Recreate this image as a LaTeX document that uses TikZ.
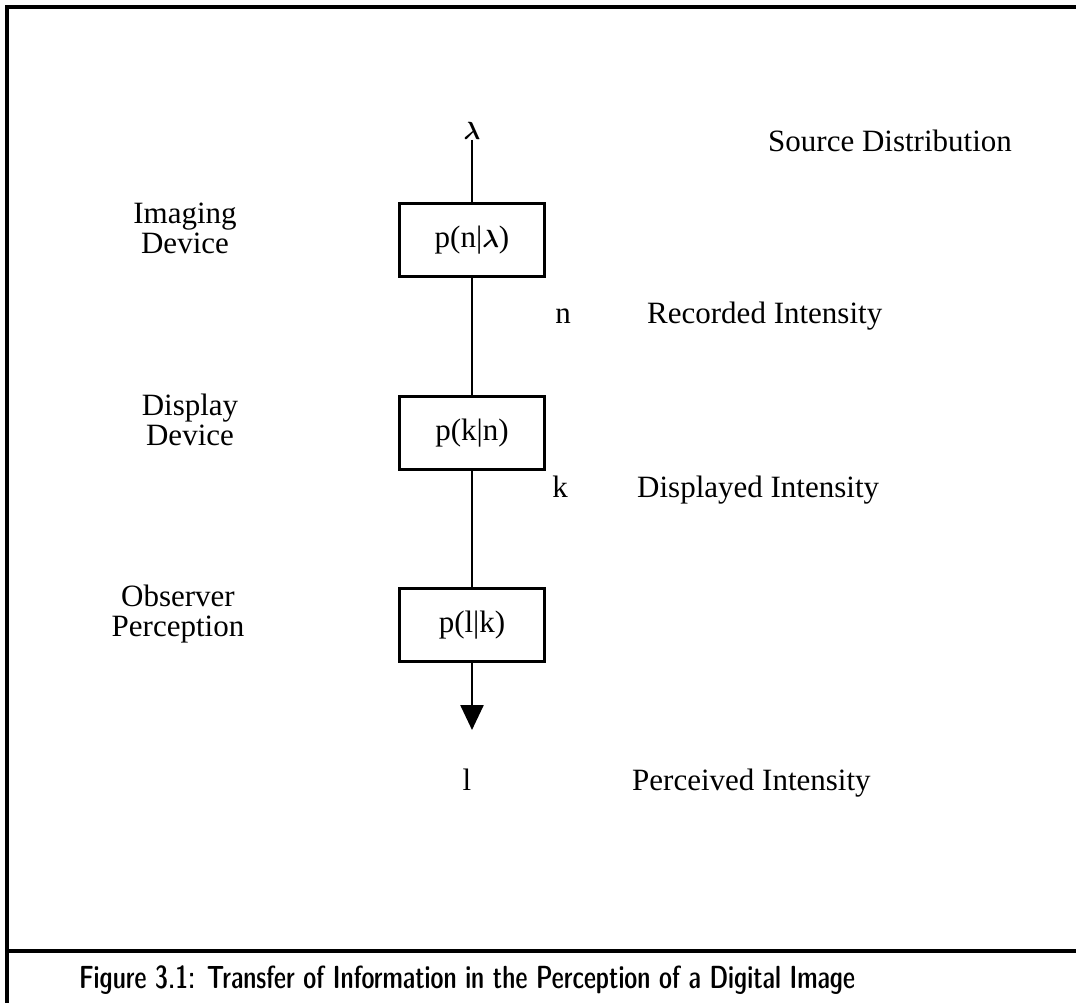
\documentclass[tikz,border=0pt]{standalone}
\usepackage{amsmath}
\usepackage{fontspec}
\setmainfont{Liberation Serif}
\usetikzlibrary{arrows.meta}
\begin{document}
\begin{tikzpicture}[x=1pt,y=-1pt,
  lab/.style={font=\fontsize{31}{31}\selectfont, inner sep=0pt},
  sidelab/.style={lab, align=center, font=\fontsize{31}{30}\selectfont},
  chan/.style={draw, line width=3pt, minimum width=145pt, minimum height=73pt,
               inner sep=0pt, font=\fontsize{31}{31}\selectfont},
  wire/.style={line width=2.5pt},
  frameline/.style={line width=3.5pt}]
\useasboundingbox (0,0) rectangle (1076,1003);

% outer frame and caption rule
\coordinate (fbl) at (7,1003);
\coordinate (ftl) at (7,7);
\coordinate (ftr) at (1076,7);
\coordinate (sl) at (7,951);
\coordinate (sr) at (1076,951);
\draw[frameline] (fbl) -- (ftl) -- (ftr);
\draw[frameline] (sl) -- (sr);

% source variable
\node[lab] (lam) at (472,131) {$\boldsymbol{\lambda}$};

% channel boxes
\node[chan] (b1) at (472,240) {p(n|$\boldsymbol{\lambda}$)};
\node[chan] (b2) at (472,433) {p(k|n)};
\node[chan] (b3) at (472,625) {p(l|k)};
\coordinate (tip) at (472,730);

\draw[wire] (lam) -- (b1);
\draw[wire] (b1) -- (b2);
\draw[wire] (b2) -- (b3);
\draw[wire, -{Triangle[width=23pt,length=25pt]}] (b3) -- (tip);

% variables along the chain
\node[lab, anchor=base] (vn) at (563,323) {n};
\node[lab, anchor=base] (vk) at (560,497) {k};
\node[lab, anchor=base] (vl) at (467,790) {l};

% right-hand descriptions
\node[lab, anchor=base west] (dsrc) at (768,152) {Source Distribution};
\node[lab, anchor=base west] (drec) at (647,323) {Recorded Intensity};
\node[lab, anchor=base west] (ddis) at (637,497) {Displayed Intensity};
\node[lab, anchor=base west] (dper) at (632,790) {Perceived Intensity};

% left-hand descriptions
\node[sidelab] (limg) at (185,228) {Imaging\\Device};
\node[sidelab] (ldis) at (190,420) {Display\\Device};
\node[sidelab] (lobs) at (178,614) {Observer\\Perception};

% caption in narrow bold sans
\node[inner sep=0pt, anchor=base, xscale=0.85,
      font=\fontsize{32}{34}\usefont{TU}{lmss}{sbc}{n}] (cap) at (467,988)
  {Figure 3.1: Transfer of Information in the Perception of a Digital Image};
\end{tikzpicture}
\end{document}
